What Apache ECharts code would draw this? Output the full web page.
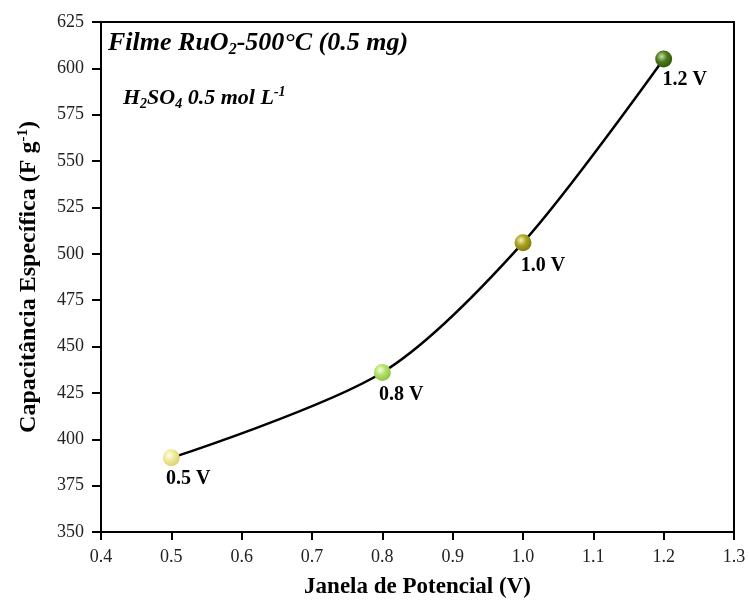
<!DOCTYPE html>
<html>
<head>
<meta charset="utf-8">
<script src="https://cdn.jsdelivr.net/npm/echarts@6/dist/echarts.min.js"></script>
<style>
  html, body { margin: 0; padding: 0; background: #fff; }
  #chart { width: 749px; height: 601px; }
</style>
</head>
<body>
<div id="chart"></div>
<script>
// Potential window (V) and specific capacitance (F g^-1)
const potentialWindow = [0.5, 0.8, 1.0, 1.2];
const capacitance = [390, 436, 506, 605];
const pointLabels = ['0.5 V', '0.8 V', '1.0 V', '1.2 V'];
const xTicks = [0.4, 0.5, 0.6, 0.7, 0.8, 0.9, 1.0, 1.1, 1.2, 1.3];
const yTicks = [350, 375, 400, 425, 450, 475, 500, 525, 550, 575, 600, 625];

// sphere shading per point: [highlight, base, shadow]
const sphereColors = [
  ['#ffffee', '#efe99a', '#d8d070'],
  ['#f2ffe0', '#b3e06a', '#8cc040'],
  ['#f4f0c0', '#aaa21e', '#7e7810'],
  ['#c8e0b0', '#4d7c1c', '#2e5208']
];
const labelOffsets = [[17, -2], [19, -1], [20, 0], [21, -3]];

const FONT = '"Liberation Serif", "Times New Roman", serif';

const seriesData = potentialWindow.map((x, i) => ({
  value: [x, capacitance[i]],
  itemStyle: {
    color: {
      type: 'radial', x: 0.38, y: 0.35, r: 0.7,
      colorStops: [
        { offset: 0, color: sphereColors[i][0] },
        { offset: 0.45, color: sphereColors[i][1] },
        { offset: 1, color: sphereColors[i][2] }
      ]
    }
  },
  label: {
    show: true,
    formatter: pointLabels[i],
    position: 'bottom',
    offset: labelOffsets[i],
    fontFamily: FONT, fontWeight: 'bold', fontSize: 20, color: '#000'
  }
}));

const chart = echarts.init(document.getElementById('chart'));
chart.setOption({
  animation: false,
  backgroundColor: '#fff',
  grid: { left: 101, right: 15, top: 22, bottom: 69, containLabel: false, outerBoundsMode: 'none' },
  xAxis: [{
    type: 'value', min: xTicks[0], max: xTicks[xTicks.length - 1], interval: 0.1,
    name: 'Janela de Potencial (V)', nameLocation: 'middle', nameGap: 44,
    nameTextStyle: { fontFamily: FONT, fontWeight: 'bold', fontSize: 23, color: '#000' },
    axisLine: { show: true, lineStyle: { color: '#000', width: 2 } },
    axisTick: { show: true, inside: false, length: 8, lineStyle: { color: '#000', width: 2 } },
    axisLabel: { fontFamily: FONT, fontSize: 18, color: '#222', margin: 16,
      formatter: v => v.toFixed(1) },
    splitLine: { show: false }
  }, {
    type: 'value', position: 'top', min: xTicks[0], max: xTicks[xTicks.length - 1],
    axisLine: { show: true, onZero: false, lineStyle: { color: '#000', width: 2 } },
    axisTick: { show: false }, axisLabel: { show: false }, splitLine: { show: false }
  }],
  yAxis: [{
    type: 'value', min: yTicks[0], max: yTicks[yTicks.length - 1], interval: 25,
    name: '{t|Capacitância Específica (F g}{s|-1}{t|)}', nameLocation: 'middle', nameGap: 60,
    nameTextStyle: {
      rich: {
        t: { fontFamily: FONT, fontWeight: 'bold', fontSize: 24, color: '#000' },
        s: { fontFamily: FONT, fontWeight: 'bold', fontSize: 15, color: '#000', verticalAlign: 'top', padding: [0, 0, 10, 0] }
      }
    },
    axisLine: { show: true, lineStyle: { color: '#000', width: 2 } },
    axisTick: { show: true, inside: false, length: 9, lineStyle: { color: '#000', width: 2 } },
    axisLabel: { fontFamily: FONT, fontSize: 18, color: '#222', margin: 17 },
    splitLine: { show: false }
  }, {
    type: 'value', position: 'right', min: yTicks[0], max: yTicks[yTicks.length - 1],
    axisLine: { show: true, onZero: false, lineStyle: { color: '#000', width: 2 } },
    axisTick: { show: false }, axisLabel: { show: false }, splitLine: { show: false }
  }],
  series: [{
    type: 'line',
    data: seriesData,
    smooth: 0.3,
    symbol: 'circle',
    symbolSize: 17,
    lineStyle: { color: '#000', width: 2.5 },
    z: 3
  }],
  graphic: [{
    type: 'text', left: 108, top: 30,
    style: {
      text: '{a|Filme RuO}{b|2}{a|-500°C (0.5 mg)}',
      rich: {
        a: { fontFamily: FONT, fontWeight: 'bold', fontStyle: 'italic', fontSize: 26, fill: '#000' },
        b: { fontFamily: FONT, fontWeight: 'bold', fontStyle: 'italic', fontSize: 16, fill: '#000', padding: [14, 0, 0, 0] }
      }
    }
  }, {
    type: 'text', left: 123, top: 85,
    style: {
      text: '{a|H}{b|2}{a|SO}{b|4}{a| 0.5 mol L}{c|-1}',
      rich: {
        a: { fontFamily: FONT, fontWeight: 'bold', fontStyle: 'italic', fontSize: 22, fill: '#000' },
        b: { fontFamily: FONT, fontWeight: 'bold', fontStyle: 'italic', fontSize: 14, fill: '#000', padding: [12, 0, 0, 0] },
        c: { fontFamily: FONT, fontWeight: 'bold', fontStyle: 'italic', fontSize: 14, fill: '#000', padding: [0, 0, 12, 0] }
      }
    }
  }]
});
</script>
</body>
</html>
